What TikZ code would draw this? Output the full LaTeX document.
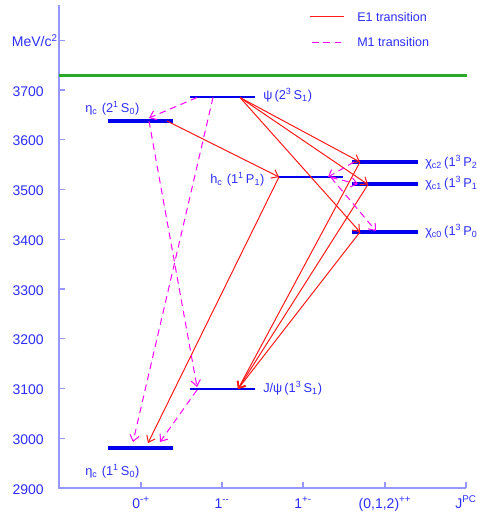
\documentclass[tikz,border=0pt]{standalone}
\usepackage{fontspec}
\setmainfont{Liberation Sans}
\usetikzlibrary{arrows.meta}
\definecolor{txtblue}{RGB}{45,45,255}
\definecolor{axisblue}{RGB}{150,150,255}
\definecolor{lvlblue}{RGB}{0,0,235}
\definecolor{eone}{RGB}{255,25,25}
\definecolor{mone}{RGB}{255,0,255}
\definecolor{thresh}{RGB}{40,170,40}
\tikzset{
  axisline/.style={draw=axisblue, line width=0.9pt},
  ticklab/.style={text=txtblue, font=\fontsize{10.5}{12}\selectfont, inner sep=0pt, anchor=base east},
  xlab/.style={text=txtblue, font=\fontsize{10.5}{12}\selectfont, inner sep=0pt, anchor=base},
  statelab/.style={text=txtblue, font=\fontsize{9.6}{11}\selectfont, inner sep=0pt, anchor=base west},
  leglab/.style={text=txtblue, font=\fontsize{9.4}{11}\selectfont, inner sep=0pt, anchor=base west},
  thicklvl/.style={draw=lvlblue, line width=2.4pt},
  fatlvl/.style={draw=lvlblue, line width=3.4pt},
  thinlvl/.style={draw=lvlblue, line width=1pt},
  eline/.style={draw=eone, line width=0.75pt},
  mline/.style={draw=mone, line width=0.75pt, dash pattern=on 5pt off 3.5pt},
  etrans/.style={eline, -{Straight Barb[length=4.5pt,width=7pt]}},
  mtrans/.style={mline, -{Straight Barb[length=4.5pt,width=7pt]}},
}
\newcommand{\sups}[1]{\textsuperscript{#1}}
\newcommand{\subs}[1]{\textsubscript{#1}}
\begin{document}
\begin{tikzpicture}[x=0.75pt,y=-0.75pt]
\useasboundingbox (0,0) rectangle (477,512);

% axes
\coordinate (O) at (59,488);
\coordinate (Ytop) at (59,5);
\coordinate (Xend) at (466,488);
\draw[axisline] (Ytop) -- (O) -- (Xend);
\foreach \m in {2900,3000,...,3800}{
  \pgfmathsetmacro{\yy}{488-(\m-2900)*0.4975}
  \draw[axisline] (59,\yy) -- (65,\yy);
}
\foreach \m in {2900,3000,...,3700}{
  \pgfmathsetmacro{\yy}{488-(\m-2900)*0.4975+6}
  \node[ticklab] (t\m) at (44,\yy) {\m};
}
\node[ticklab] (unit) at (58,46.5) {MeV/c\sups{2}};
\foreach \xx in {141,222,303,385,466}{
  \draw[axisline] (\xx,488) -- (\xx,482);
}
\node[xlab] (x0) at (141,508) {0\sups{-+}};
\node[xlab] (x1) at (222,508) {1\sups{-{}-}};
\node[xlab] (x2) at (303,508) {1\sups{+-}};
\node[xlab] (x3) at (385,508) {(0,1,2)\sups{++}};
\node[xlab, anchor=base west] (x4) at (455,508) {J\sups{PC}};

% threshold
\coordinate (thL) at (59,75.5);
\coordinate (thR) at (467,75.5);
\draw[draw=thresh, line width=2pt] (thL) -- (thR);

% legend
\coordinate (legEa) at (310,16);
\coordinate (legEb) at (344,16);
\coordinate (legMa) at (312,42);
\coordinate (legMb) at (346,42);
\draw[eline] (legEa) -- (legEb);
\draw[mline] (legMa) -- (legMb);
\node[leglab] (legE) at (357,21) {E1 transition};
\node[leglab] (legM) at (357,46) {M1 transition};

% levels
\coordinate (etaBL) at (108,121); \coordinate (etaBR) at (173,121);
\coordinate (psiBL) at (190,97);  \coordinate (psiBR) at (255,97);
\coordinate (hcL) at (278,177);   \coordinate (hcR) at (343,177);
\coordinate (chiTL) at (352,162); \coordinate (chiTR) at (418,162);
\coordinate (chiOL) at (352,184); \coordinate (chiOR) at (418,184);
\coordinate (chiZL) at (352,232); \coordinate (chiZR) at (418,232);
\coordinate (jpsiL) at (190,389); \coordinate (jpsiR) at (255,389);
\coordinate (etaAL) at (108,448); \coordinate (etaAR) at (173,448);

\draw[thicklvl] (etaBL) -- (etaBR);
\draw[thinlvl] (psiBL) -- (psiBR);
\draw[thinlvl] (hcL) -- (hcR);
\draw[thicklvl] (chiTL) -- (chiTR);
\draw[thicklvl] (chiOL) -- (chiOR);
\draw[thicklvl] (chiZL) -- (chiZR);
\draw[thinlvl] (jpsiL) -- (jpsiR);
\draw[fatlvl] (etaAL) -- (etaAR);

% state labels
\node[statelab] (letaB) at (85,112) {η\subs{c}\,\,(2\sups{1}\,S\subs{0})};
\node[statelab] (lpsiB) at (263,99.5) {ψ\,(2\sups{3}\,S\subs{1})};
\node[statelab] (lhc) at (210,183) {h\subs{c}\,\,(1\sups{1}\,P\subs{1})};
\node[statelab] (lchiT) at (425,166) {χ\subs{c2}\,(1\sups{3}\,P\subs{2})};
\node[statelab] (lchiO) at (425,187) {χ\subs{c1}\,(1\sups{3}\,P\subs{1})};
\node[statelab] (lchiZ) at (425,235) {χ\subs{c0}\,(1\sups{3}\,P\subs{0})};
\node[statelab] (ljpsi) at (263,392) {J/ψ\,(1\sups{3}\,S\subs{1})};
\node[statelab] (letaA) at (85,475) {η\subs{c}\,\,(1\sups{1}\,S\subs{0})};

% transition points
\coordinate (psiE) at (240,97.5);
\coordinate (etaBE) at (167,121);
\coordinate (hcE) at (279,177);
\coordinate (chiTE) at (360,162);
\coordinate (chiOE) at (368,184.5);
\coordinate (chiZE) at (360,232);
\coordinate (jpsiE) at (238,389);
\coordinate (etaAE) at (148,443);

\coordinate (psiM1) at (197,97.5);
\coordinate (psiM2) at (213,97.5);
\coordinate (etaBM) at (149,118);
\coordinate (etaBMs) at (149,121);
\coordinate (etaAM1) at (133,442);
\coordinate (etaAM2) at (160,442);
\coordinate (jpsiM) at (197,387);
\coordinate (jpsiMs) at (197,390);
\coordinate (chiTM) at (354,162);
\coordinate (hcM) at (328,177);
\coordinate (hcMs) at (331,177.5);
\coordinate (chiOM) at (358,184);
\coordinate (chiZM) at (376,231);

% E1 transitions
\draw[etrans] (psiE) -- (chiTE);
\draw[etrans] (psiE) -- (chiOE);
\draw[etrans] (psiE) -- (chiZE);
\draw[etrans] (etaBE) -- (hcE);
\draw[etrans] (hcE) -- (etaAE);
\draw[etrans] (chiTE) -- (jpsiE);
\draw[etrans] (chiOE) -- (jpsiE);
\draw[etrans] (chiZE) -- (jpsiE);

% M1 transitions
\draw[mtrans] (psiM1) -- (etaBM);
\draw[mtrans] (psiM2) -- (etaAM1);
\draw[mtrans] (etaBMs) -- (jpsiM);
\draw[mtrans] (jpsiMs) -- (etaAM2);
\draw[mtrans] (chiTM) -- (hcM);
\draw[mtrans] (hcMs) -- (chiOM);
\draw[mtrans] (hcMs) -- (chiZM);
\end{tikzpicture}
\end{document}
